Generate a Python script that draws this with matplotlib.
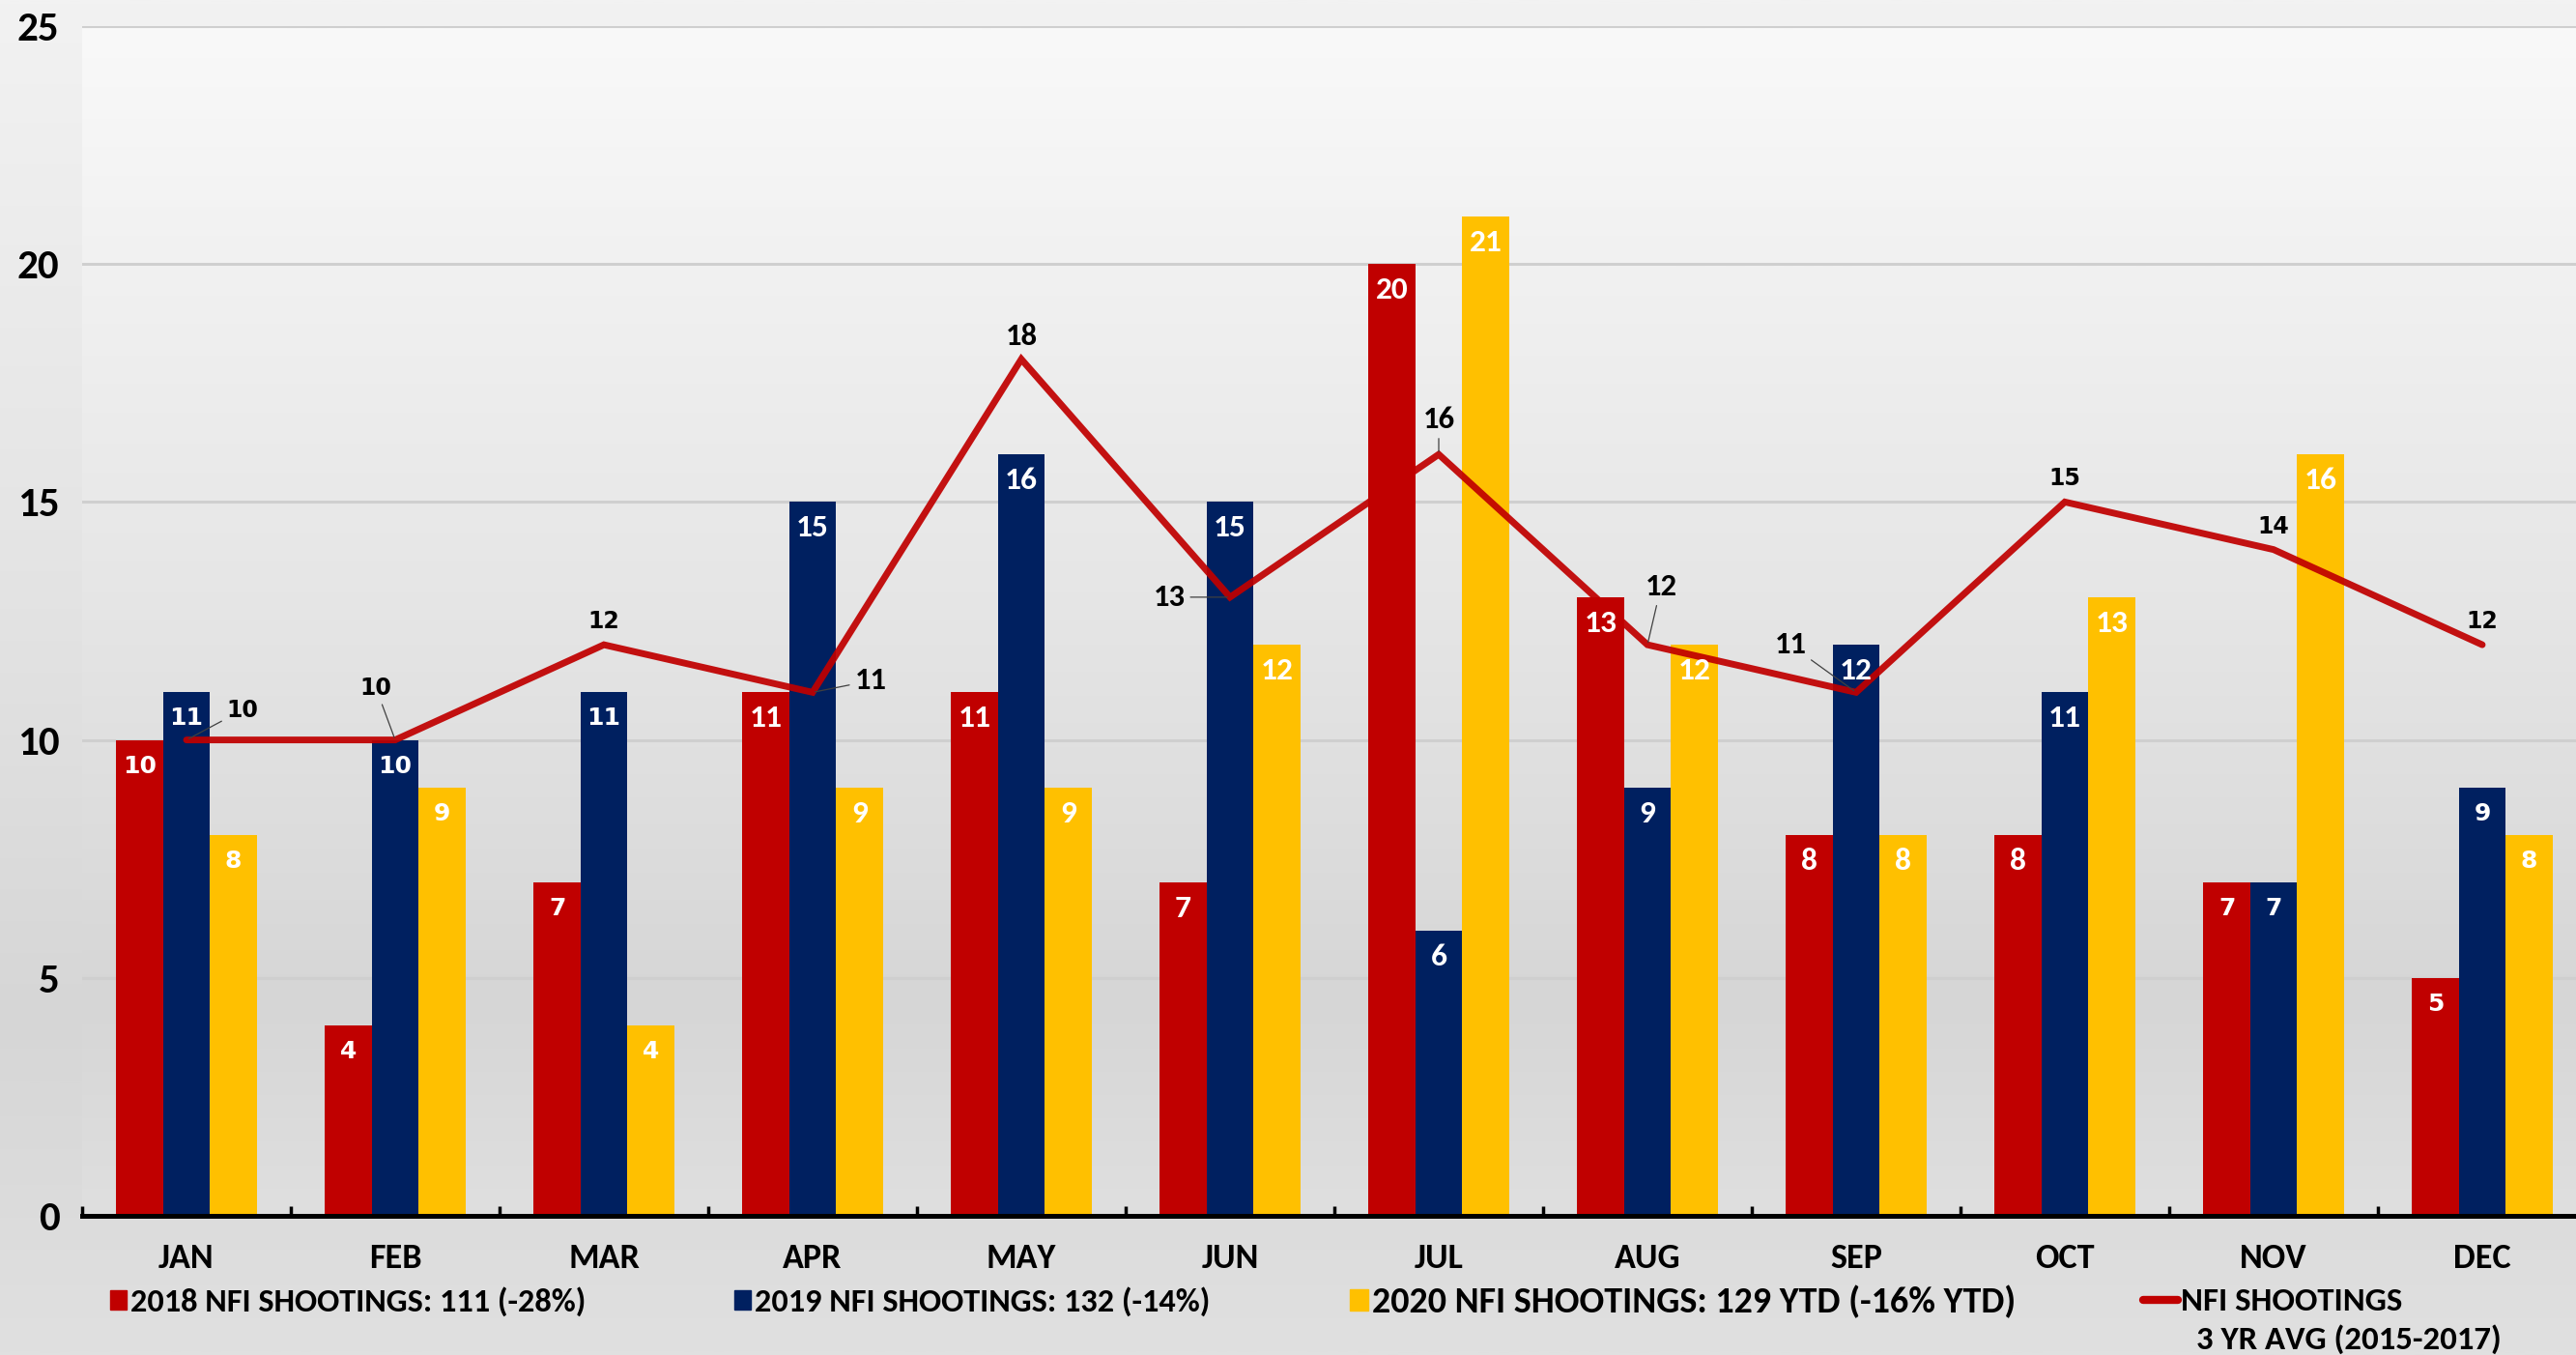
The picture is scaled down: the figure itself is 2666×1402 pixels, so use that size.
import numpy as np
import matplotlib
matplotlib.use("Agg")
import matplotlib.pyplot as plt
from matplotlib import font_manager as fm
from matplotlib.patches import Patch
from matplotlib.lines import Line2D
from matplotlib.colors import LinearSegmentedColormap
from matplotlib.ticker import FixedLocator

# ---- data -------------------------------------------------------------
months = ["JAN", "FEB", "MAR", "APR", "MAY", "JUN",
          "JUL", "AUG", "SEP", "OCT", "NOV", "DEC"]
shootings_2018 = [10, 4, 7, 11, 11, 7, 20, 13, 8, 8, 7, 5]
shootings_2019 = [11, 10, 11, 15, 16, 15, 6, 9, 12, 11, 7, 9]
shootings_2020 = [8, 9, 4, 9, 9, 12, 21, 12, 8, 13, 16, 8]
avg_3yr = [10, 10, 12, 11, 18, 13, 16, 12, 11, 15, 14, 12]

label_2018 = "2018 NFI SHOOTINGS: 111 (-28%)"
label_2019 = "2019 NFI SHOOTINGS: 132 (-14%)"
label_2020 = "2020 NFI SHOOTINGS: 129 YTD (-16% YTD)"
label_avg = ["NFI SHOOTINGS", "3 YR AVG (2015-2017)"]
y_ticks = [0, 5, 10, 15, 20, 25]

# ---- style ------------------------------------------------------------
RED = "#c00000"
NAVY = "#002060"
GOLD = "#ffc000"
LINE = "#c00000"

names = {f.name for f in fm.fontManager.ttflist}
CAL = next((n for n in ("Carlito", "Calibri", "Lato", "Open Sans") if n in names), "DejaVu Sans")
WIDE = "DejaVu Sans"

W, H, DPI = 2666, 1402, 100
fig = plt.figure(figsize=(W / DPI, H / DPI), dpi=DPI)

# chart-area background gradient
bg = fig.add_axes([0, 0, 1, 1], zorder=-10)
bg.set_axis_off()
fig_cmap = LinearSegmentedColormap.from_list(
    "fig_bg", [(0.0, "#f2f2f2"), (0.45, "#e3e3e3"), (0.75, "#d6d6d6"), (1.0, "#e0e0e0")])
grad = np.linspace(0, 1, 512).reshape(-1, 1)
bg.imshow(grad, aspect="auto", cmap=fig_cmap, extent=[0, 1, 0, 1], origin="upper")

ax_left = 85 / W
ax_bottom = 1 - 1258 / H
ax_w = (2677 - 85) / W
ax_h = (1258 - 27) / H
ax = fig.add_axes([ax_left, ax_bottom, ax_w, ax_h])
ax.set_facecolor("none")

# plot-area gradient (lighter at the top)
plot_cmap = LinearSegmentedColormap.from_list(
    "plot_bg", [(0.0, "#f9f9f9"), (0.5, "#e5e5e5"), (0.82, "#d6d6d6"), (1.0, "#dfdfdf")])
ax.imshow(grad, aspect="auto", cmap=plot_cmap, extent=[-0.5, len(months) - 0.5, 0, 25],
          origin="upper", zorder=-5)

x = np.arange(len(months))
bw = 0.224
series = [(shootings_2018, RED, -bw), (shootings_2019, NAVY, 0.0), (shootings_2020, GOLD, bw)]

# bar labels drawn in the wide face for these (series, month) pairs
wide_bar_labels = {(s, m) for s in range(3) for m in (0, 1, 2, 11)} | {(0, 10), (1, 10)}
wide_line_labels = {0, 1, 2, 9, 10, 11}

for si, (vals, col, off) in enumerate(series):
    bars = ax.bar(x + off, vals, bw, color=col, zorder=3)
    for mi, (b, v) in enumerate(zip(bars, vals)):
        wide = (si, mi) in wide_bar_labels
        ax.annotate(str(v), (b.get_x() + b.get_width() / 2, v),
                    xytext=(0, -27), textcoords="offset pixels",
                    ha="center", va="center", color="white",
                    fontsize=18 if wide else 24, fontweight="bold",
                    family=WIDE if wide else CAL, zorder=5)

ax.plot(x, avg_3yr, color=LINE, lw=5, alpha=0.93, zorder=4,
        solid_capstyle="round", solid_joinstyle="miter")

# line value labels: (dx, dy) pixel offsets and whether a leader line is drawn
label_offsets = [(58, 31, True), (-20, 54, True), (0, 24, False), (60, 12, True),
                 (0, 24, False), (-63, 0, True), (0, 36, True), (14, 60, True),
                 (-68, 49, True), (0, 24, False), (0, 24, False), (0, 24, False)]
for mi, (xi, v, (dx, dy, lead)) in enumerate(zip(x, avg_3yr, label_offsets)):
    kw = {}
    if lead:
        kw["arrowprops"] = dict(arrowstyle="-", color="#404040", lw=0.9,
                                shrinkA=2, shrinkB=2)
    wide = mi in wide_line_labels
    ax.annotate(str(v), (xi, v), xytext=(dx, dy), textcoords="offset pixels",
                ha="center", va="center", color="black",
                fontsize=17 if wide else 23.5, fontweight="bold",
                family=WIDE if wide else CAL, zorder=6, **kw)

# axes
ax.set_xlim(-0.5, len(months) - 0.5)
ax.set_ylim(0, 25)
ax.set_yticks(y_ticks)
ax.yaxis.grid(True, color="#cfcfcf", lw=2.2, zorder=0)
ax.set_axisbelow(True)
for s in ("left", "right", "top"):
    ax.spines[s].set_visible(False)
ax.spines["bottom"].set_linewidth(3.6)
ax.spines["bottom"].set_color("black")
ax.spines["bottom"].set_zorder(7)

ax.set_xticks(x)
ax.set_xticklabels(months, family=CAL, fontweight="bold", fontsize=26)
ax.xaxis.set_minor_locator(FixedLocator(np.arange(-0.5, len(months), 1.0)))
ax.tick_params(axis="x", which="major", length=0, pad=20)
ax.tick_params(axis="x", which="minor", direction="in", length=7, width=2.5, color="black")
ax.tick_params(axis="y", length=0, pad=17)
for t in ax.get_yticklabels():
    t.set_fontsize(31)
    t.set_fontweight("bold")
    t.set_family(CAL)

# legend entries laid out along the bottom
LEG_Y = 1 - 1347 / H


def add_legend(handle, label, x0, fs, **kw):
    opts = dict(handletextpad=0.1, handlelength=0.5, handleheight=0.5)
    opts.update(kw)
    return fig.legend([handle], [label], loc="center left",
                      bbox_to_anchor=(x0 / W, LEG_Y), frameon=False,
                      borderpad=0, borderaxespad=0,
                      prop=dict(family=CAL, weight="bold", size=fs), **opts)


add_legend(Patch(color=RED), label_2018, 114, 24.7)
add_legend(Patch(color=NAVY), label_2019, 760, 24.7)
add_legend(Patch(color=GOLD), label_2020, 1397, 27.4)
add_legend(Line2D([0], [0], color=LINE, lw=6, solid_capstyle="round"), label_avg[0],
           2218, 25, handletextpad=0.08, handlelength=1.05)
fig.text(2273 / W, 1 - 1386 / H, label_avg[1], family=CAL, fontweight="bold",
         fontsize=25, ha="left", va="center")

fig.savefig("out.png", dpi=DPI)
